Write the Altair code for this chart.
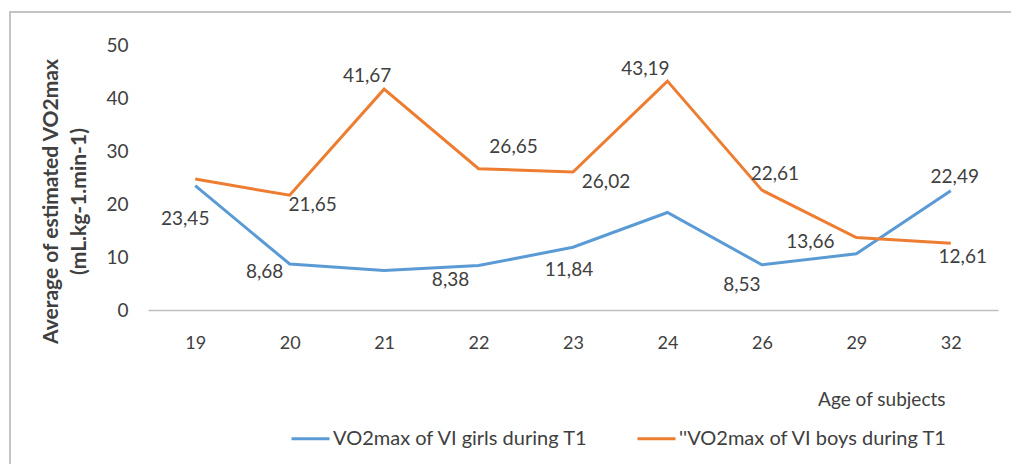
import altair as alt
import pandas as pd

ages = ["19", "20", "21", "22", "23", "24", "26", "29", "32"]
girls_name = "VO2max of VI girls during T1"
boys_name = "''VO2max of VI boys during T1"
girls = [23.45, 8.68, 7.45, 8.38, 11.84, 18.4, 8.53, 10.6, 22.49]
boys = [24.7, 21.65, 41.67, 26.65, 26.02, 43.19, 22.61, 13.66, 12.61]

label_ages = ["19", "20", "20", "21", "22", "22", "23", "23", "24", "26", "26", "29", "32", "32"]
label_values = [23.45, 8.68, 21.65, 41.67, 8.38, 26.65, 26.02, 11.84, 43.19, 22.61, 8.53, 13.66, 22.49, 12.61]
# label placement offsets (dx, dy) in pixels, styling only
label_offsets = [(-10, 33), (-25, 8), (23, 10), (-17, -13), (-28, 14), (35, -22), (33, 10),
                 (-4, 23), (-22, -12), (13, -16), (-20, 20), (-46, 4), (4, -14), (12, 14)]

FONT = "Lato"
TXT = "#404040"

rows = []
for a, g, b in zip(ages, girls, boys):
    rows.append({"age": a, "series": girls_name, "value": g})
    rows.append({"age": a, "series": boys_name, "value": b})
df = pd.DataFrame(rows)

x_enc = alt.X("age:N", sort=ages, scale=alt.Scale(type="point", padding=0.5),
              axis=alt.Axis(title="Age of subjects", labelAngle=0, ticks=False, grid=False, zindex=1,
                            domainColor="#bfbfbf", domainWidth=1.5,
                            labelFont=FONT, labelFontSize=18, labelColor=TXT, labelPadding=24,
                            titleFont=FONT, titleFontSize=19, titleFontWeight="normal", titleColor=TXT,
                            titleAnchor="end", titleAlign="right", titleX=797, titleY=80,
                            titleBaseline="top"))
y_enc = alt.Y("value:Q", scale=alt.Scale(domain=[0, 50]),
              axis=alt.Axis(values=[0, 10, 20, 30, 40, 50], title=["Average of estimated VO2max", "(mL.kg-1.min-1)"],
                            ticks=False, grid=False, domain=False, zindex=1,
                            labelFont=FONT, labelFontSize=19, labelColor=TXT, labelPadding=20,
                            titleFont=FONT, titleFontSize=21, titleFontWeight="bold", titleColor=TXT,
                            titleX=-108, titleY=156, titleBaseline="top", titleAlign="center",
                            titleLineHeight=28, titleAngle=-90))

lines = alt.Chart(df).mark_line(strokeWidth=3).encode(
    x=x_enc,
    y=y_enc,
    color=alt.Color("series:N",
                    scale=alt.Scale(domain=[girls_name, boys_name], range=["#5b9bd5", "#ed7d31"]),
                    legend=alt.Legend(title=None, orient="none", direction="horizontal",
                                      legendX=142, legendY=373, symbolType="stroke",
                                      symbolSize=1444, symbolStrokeWidth=3, labelOffset=2,
                                      columnPadding=42, labelFont=FONT, labelFontSize=20,
                                      labelColor=TXT, labelLimit=400)),
)

lab_df = pd.DataFrame({
    "age": label_ages,
    "value": label_values,
    "text": [f"{v:.2f}".replace(".", ",") for v in label_values],
})

text_layers = []
for i, (dx, dy) in enumerate(label_offsets):
    text_layers.append(
        alt.Chart(lab_df.iloc[[i]]).mark_text(dx=dx, dy=dy, font=FONT, fontSize=19, color=TXT,
                                               align="center", baseline="middle").encode(
            x=alt.X("age:N", sort=ages), y="value:Q", text="text:N")
    )

frame = alt.Chart(pd.DataFrame({"k": [0]})).mark_rect(fill="white", stroke="#c4c4c4", strokeWidth=2).encode(
    x=alt.value(-138), x2=alt.value(900), y=alt.value(-33), y2=alt.value(450))

chart = alt.layer(frame, lines, *text_layers).properties(
    width=850, height=265,
    padding={"left": 140, "top": 37, "right": 13, "bottom": 154},
    autosize=alt.AutoSizeParams(type="none"),
    background="white",
).configure_view(stroke=None)

chart.save("out.html", embed_options={"renderer": "svg", "actions": False})
